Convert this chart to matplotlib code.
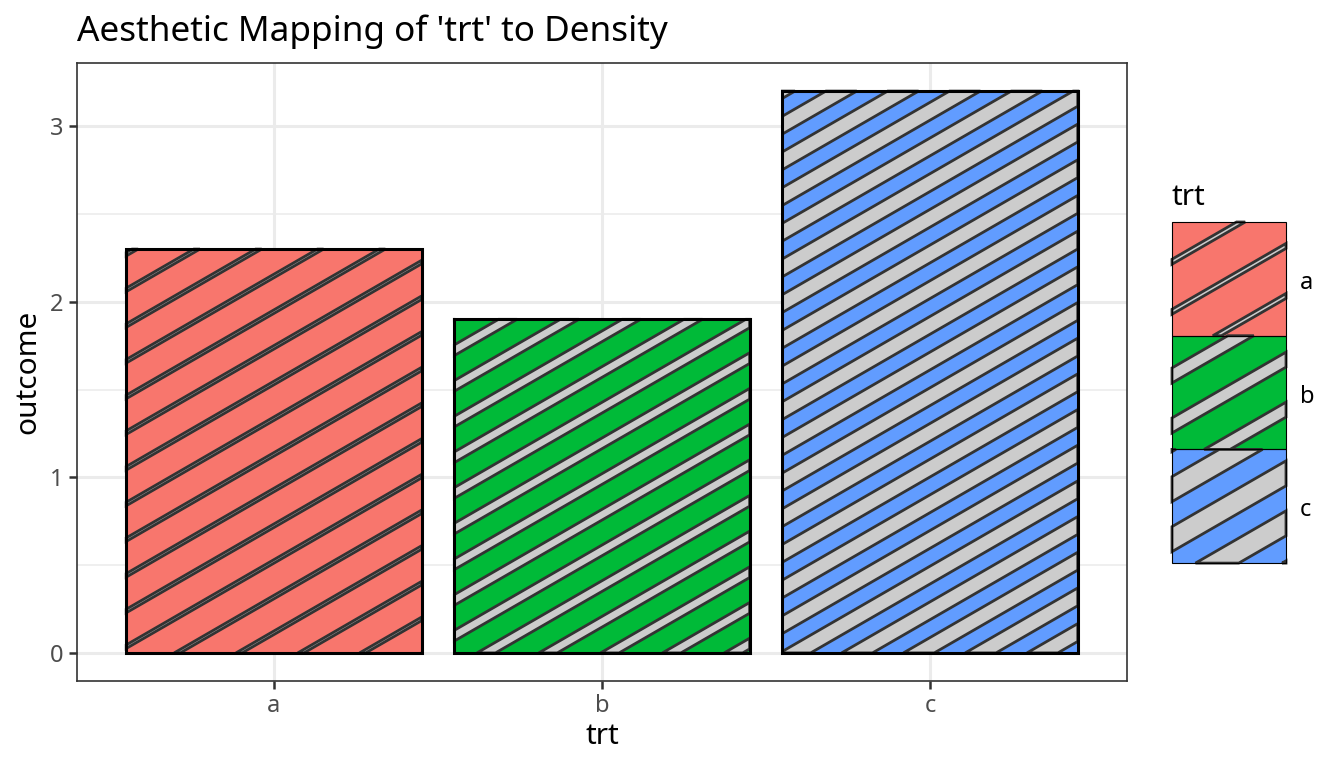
import numpy as np
import matplotlib
matplotlib.use("Agg")
import matplotlib.pyplot as plt
from matplotlib.patches import Polygon, Rectangle

# ---- data ----
categories = ["a", "b", "c"]
outcome = [2.3, 1.9, 3.2]
densities = [0.1, 0.3, 0.5]
fill_colors = ["#F8766D", "#00BA38", "#619CFF"]
yticks = [0, 1, 2, 3]
yminor = [0.5, 1.5, 2.5]

plt.rcParams['font.family'] = ['Noto Sans', 'DejaVu Sans']

W, H = 1344, 768
fig = plt.figure(figsize=(W / 100, H / 100), dpi=100)
ax = fig.add_axes([77 / W, 87 / H, 1050 / W, 618 / H])

xpos = np.arange(1, len(categories) + 1)
ax.set_xlim(0.4, 3.6)
ax.set_ylim(-0.16, 3.36)

# grid
for y in yticks:
    ax.axhline(y, color="#EBEBEB", lw=2.2, zorder=0)
for y in yminor:
    ax.axhline(y, color="#EBEBEB", lw=1.1, zorder=0)
for x in xpos:
    ax.axvline(x, color="#EBEBEB", lw=2.2, zorder=0)

bar_w = 0.9
ax.bar(xpos, outcome, width=bar_w, color=fill_colors, edgecolor="none", zorder=2)


def clip_poly(pts, xmin, xmax, ymin, ymax):
    def clip(pts, inside, inter):
        out = []
        for i in range(len(pts)):
            cur, prev = pts[i], pts[i - 1]
            if inside(cur):
                if not inside(prev):
                    out.append(inter(prev, cur))
                out.append(cur)
            elif inside(prev):
                out.append(inter(prev, cur))
        return out

    def ix(v):
        def f(p, q):
            t = (v - p[0]) / (q[0] - p[0])
            return (v, p[1] + t * (q[1] - p[1]))
        return f

    def iy(v):
        def f(p, q):
            t = (v - p[1]) / (q[1] - p[1])
            return (p[0] + t * (q[0] - p[0]), v)
        return f

    steps = [
        (lambda p: p[0] >= xmin, ix(xmin)),
        (lambda p: p[0] <= xmax, ix(xmax)),
        (lambda p: p[1] >= ymin, iy(ymin)),
        (lambda p: p[1] <= ymax, iy(ymax)),
    ]
    pts = [tuple(p) for p in pts]
    for inside, inter in steps:
        pts = clip(pts, inside, inter)
        if not pts:
            return []
    return pts


def stripe_polys(x0, y0, x1, y1, cx, cy, spacing, density, angle=30):
    a = np.deg2rad(angle)
    d = np.array([np.cos(a), np.sin(a)])
    n = np.array([-np.sin(a), np.cos(a)])
    corners = np.array([[x0, y0], [x1, y0], [x1, y1], [x0, y1]])
    proj = (corners - np.array([cx, cy])) @ n
    kmin = int(np.floor(proj.min() / spacing)) - 1
    kmax = int(np.ceil(proj.max() / spacing)) + 1
    L = 4000.0
    hw = density * spacing / 2
    polys = []
    for k in range(kmin, kmax + 1):
        c = np.array([cx, cy]) + k * spacing * n
        pts = [c - L * d - hw * n, c + L * d - hw * n, c + L * d + hw * n, c - L * d + hw * n]
        cl = clip_poly(pts, x0, x1, y0, y1)
        if len(cl) >= 3:
            polys.append(np.array(cl))
    return polys


# stripes for bars (computed in pixel space, aligned to the panel centre)
pcx, pcy = ax.transAxes.transform((0.5, 0.5))
spacing_main = 0.05 * 618
inv = ax.transData.inverted()
for xi, val, dens in zip(xpos, outcome, densities):
    (bx0, by0), (bx1, by1) = ax.transData.transform([(xi - bar_w / 2, 0), (xi + bar_w / 2, val)])
    for p in stripe_polys(bx0, by0, bx1, by1, pcx, pcy, spacing_main, dens):
        ax.add_patch(Polygon(inv.transform(p), closed=True, facecolor="#CCCCCC",
                             edgecolor="#333333", lw=2.0, zorder=3))

ax.bar(xpos, outcome, width=bar_w, fill=False, edgecolor="black", lw=2.2, zorder=4)

ax.set_xticks(xpos)
ax.set_xticklabels(categories)
ax.set_yticks(yticks)
ax.tick_params(axis="both", colors="#333333", labelcolor="#4D4D4D", length=5.5,
               width=1.8, labelsize=17, pad=4)
for s in ax.spines.values():
    s.set_color("#333333")
    s.set_linewidth(1.2)
    s.set_zorder(5)
ax.set_xlabel("trt", fontsize=21.5, labelpad=3)
ax.set_ylabel("outcome", fontsize=21.5, labelpad=6)

fig.text(77 / W, 1 - 41 / H, "Aesthetic Mapping of 'trt' to Density", fontsize=25.3,
         ha="left", va="baseline")

# ---- legend (pixel coordinate overlay) ----
lg = fig.add_axes([0, 0, 1, 1], facecolor="none")
lg.set_xlim(0, W)
lg.set_ylim(0, H)
lg.axis("off")

key_x0, key_x1 = 1172, 1286
key_top = 222
key_h = 113.7
leg_spacing = 43.3
lg.text(1172, H - 205, "trt", fontsize=21.5, ha="left", va="baseline")
for i, (lab, col, dens) in enumerate(zip(categories, fill_colors, densities)):
    ty = key_top + i * key_h
    y1 = H - ty
    y0 = y1 - key_h
    lg.add_patch(Rectangle((key_x0, y0), key_x1 - key_x0, key_h, facecolor=col,
                           edgecolor="none", zorder=1))
    cx, cy = (key_x0 + key_x1) / 2, (y0 + y1) / 2
    for p in stripe_polys(key_x0, y0, key_x1, y1, cx, cy, leg_spacing, dens):
        lg.add_patch(Polygon(p, closed=True, facecolor="#CCCCCC", edgecolor="#333333",
                             lw=2.0, zorder=2))
    lg.add_patch(Rectangle((key_x0, y0), key_x1 - key_x0, key_h, fill=False,
                           edgecolor="black", lw=0.8, zorder=3))
    lg.text(1300, cy - 10, lab, fontsize=17, ha="left", va="baseline")

fig.savefig("out.png", dpi=100)
